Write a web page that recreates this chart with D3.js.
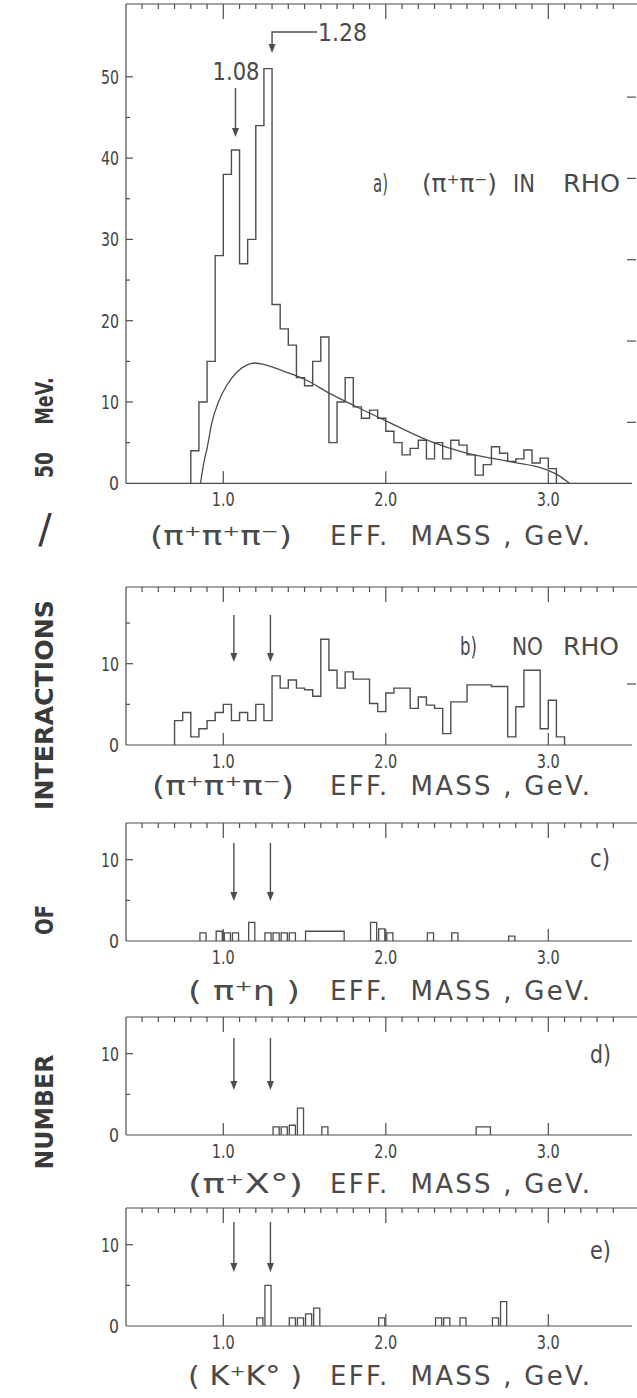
<!DOCTYPE html>
<html><head><meta charset="utf-8">
<script src="https://cdn.jsdelivr.net/npm/d3@7"></script>
<style>body{margin:0;background:#fff}svg{display:block}</style>
</head><body>
<svg id="chart" width="637" height="1398"></svg>
<script>
// ---------------- DATA ----------------
const binWidth = 0.05;            // GeV (50 MeV bins)
// a) (pi+pi-) in rho : histogram starting at 0.80 GeV
const aStart = 0.80;
const aCounts = [4,10,15,28,38,41,27,30,44,51,22,19,17,13,12,15,18,5,10,13,
                 9.4,8,9,8,6.4,5,3.5,4.3,5.3,3,5,3,5.3,4.7,3.5,1,2.3,4.5,3.7,2.7,
                 3,4.1,2.5,3.1,1.8];
// phase-space curve in a)
const curveMass = [0.86,0.88,0.90,0.93,0.97,1.02,1.08,1.14,1.19,1.27,1.37,1.50,1.66,1.80,2.02,2.27,2.48,2.78,2.97,3.06,3.13];
const curveVal  = [0,2.5,4.3,7.5,10,12,13.6,14.5,14.8,14.5,13.8,12.8,11.0,9.6,7.5,5.2,3.8,2.6,1.8,1.0,0];
// b) no rho : histogram starting at 0.70 GeV
const bStart = 0.70;
const bCounts = [3,4,1,2,3,4,5,3,4,3,5,3,8.5,7,8,7,6.8,6,13,9.2,7,9,8.1,8.1,5.1,4.1,
                 6.4,7,7,4.5,5.9,4.9,4.5,1.4,5.3,5.3,7.4,7.4,7.4,7.2,7.2,1,4.7,9.2,9.2,2,5.5,1];
// c) (pi+ eta) boxes
const cFrom = [0.85,0.95,1.00,1.05,1.15,1.25,1.30,1.35,1.40,1.50,1.90,1.95,2.00,2.25,2.40,2.75];
const cTo   = [0.90,1.00,1.05,1.10,1.20,1.30,1.35,1.40,1.45,1.75,1.95,2.00,2.05,2.30,2.45,2.80];
const cVal  = [1,1.2,1,1,2.3,1,1,1,1,1.2,2.3,1.5,1,1,1,0.6];
// d) (pi+ X0) boxes
const dFrom = [1.30,1.35,1.40,1.45,1.60,2.55];
const dTo   = [1.35,1.40,1.45,1.50,1.65,2.65];
const dVal  = [1,1,1.2,3.3,1,1];
// e) (K+ K0) boxes
const eFrom = [1.20,1.25,1.40,1.45,1.50,1.55,1.95,2.30,2.35,2.45,2.65,2.70];
const eTo   = [1.25,1.30,1.45,1.50,1.55,1.60,2.00,2.35,2.40,2.50,2.70,2.75];
const eVal  = [1,5,1,1,1.5,2.2,1,1,1,1,1,3];
// annotations
const arrowMass = [1.065, 1.29];
const aArrowMass = [1.075, 1.30];
const massTicks = [1, 2, 3];
const massTickLabels = ["1.0", "2.0", "3.0"];

// ---------------- DRAWING ----------------
const svg = d3.select('#chart');
const ink = '#4d4d4d';
const FONT = "'DejaVu Sans', sans-serif";
const x = d3.scaleLinear().domain([1, 3]).range([223.3, 548.3]);
const frameLeft = 126, frameRight = 637;

const panels = [
  {key:'a', top:4,    base:483.3, yTicks:d3.range(5,51,5), yLabels:[0,10,20,30,40,50], rTicks:[7.5,17.5,27.5,37.5,47.5]},
  {key:'b', top:587,  base:745,   yTicks:[5,10,15], yLabels:[0,10], rTicks:[7.5]},
  {key:'c', top:823,  base:941,   yTicks:[5,10], yLabels:[0,10], rTicks:[]},
  {key:'d', top:1017, base:1135,  yTicks:[5,10], yLabels:[0,10], rTicks:[]},
  {key:'e', top:1208, base:1326,  yTicks:[5,10], yLabels:[0,10], rTicks:[]}
];
panels.forEach(p => { p.y = d3.scaleLinear().domain([0, 10]).range([p.base, p.base - 81.3]); });

function drawFrame(p) {
  const g = svg.append('g').attr('stroke', ink).attr('stroke-width', 1.2).attr('fill', 'none');
  g.append('line').attr('x1', frameLeft).attr('x2', frameRight).attr('y1', p.top).attr('y2', p.top);
  g.append('line').attr('x1', frameLeft).attr('x2', frameLeft).attr('y1', p.top).attr('y2', p.base);
  g.append('line').attr('x1', frameLeft).attr('x2', 632).attr('y1', p.base).attr('y2', p.base);
  // top ticks
  const minor = d3.range(0.5, 3.45, 0.1).filter(v => Math.abs(v - Math.round(v)) > 0.01);
  g.selectAll(null).data(minor).join('line')
    .attr('x1', d => x(d)).attr('x2', d => x(d)).attr('y1', p.top).attr('y2', p.top + 5);
  g.selectAll(null).data(massTicks).join('line')
    .attr('x1', d => x(d)).attr('x2', d => x(d)).attr('y1', p.top).attr('y2', p.top + 15);
  // bottom ticks
  g.selectAll(null).data(massTicks).join('line')
    .attr('x1', d => x(d)).attr('x2', d => x(d)).attr('y1', p.base).attr('y2', p.base - 12);
  // left ticks
  g.selectAll(null).data(p.yTicks).join('line')
    .attr('x1', frameLeft).attr('x2', d => frameLeft + (d % 10 === 0 ? 7 : 4))
    .attr('y1', d => p.y(d)).attr('y2', d => p.y(d));
  // right ticks
  g.selectAll(null).data(p.rTicks).join('line')
    .attr('x1', 627).attr('x2', 636).attr('y1', d => p.y(d)).attr('y2', d => p.y(d));
  // tick labels
  const t = svg.append('g').attr('font-family', FONT).attr('font-size', 19).attr('fill', '#444');
  t.selectAll(null).data(massTicks).join('text')
    .attr('x', d => x(d)).attr('y', p.base + 23).attr('text-anchor', 'middle')
    .attr('textLength', 23).attr('lengthAdjust', 'spacingAndGlyphs')
    .text((d, i) => massTickLabels[i]);
  t.selectAll(null).data(p.yLabels).join('text')
    .attr('x', 119).attr('y', d => p.y(d) + 7).attr('text-anchor', 'end')
    .attr('textLength', d => d === 0 ? 10 : 18).attr('lengthAdjust', 'spacingAndGlyphs')
    .text(d => d3.format('d')(d));
}
panels.forEach(drawFrame);

function stepHist(p, start, counts) {
  const end = start + counts.length * binWidth;
  const pts = [[start, 0]].concat(counts.map((c, i) => [start + i * binWidth, c]), [[end, counts[counts.length - 1]], [end, 0]]);
  const line = d3.line().x(d => x(d[0])).y(d => p.y(d[1])).curve(d3.curveStepAfter);
  svg.append('path').attr('d', line(pts)).attr('fill', 'none').attr('stroke', ink).attr('stroke-width', 1.4);
}
function boxes(p, from, to, val) {
  const line = d3.line().x(d => x(d[0]) + d[2]).y(d => p.y(d[1]));
  from.forEach((f, i) => {
    const pts = [[f, 0, 1], [f, val[i], 1], [to[i], val[i], -1], [to[i], 0, -1]];
    svg.append('path').attr('d', line(pts)).attr('fill', 'none').attr('stroke', ink).attr('stroke-width', 1.3);
  });
}
function arrow(xp, y1, y2) {
  svg.append('line').attr('x1', xp).attr('x2', xp).attr('y1', y1).attr('y2', y2 - 6)
    .attr('stroke', ink).attr('stroke-width', 1.4);
  svg.append('path').attr('d', `M${xp - 3.5},${y2 - 9}L${xp + 3.5},${y2 - 9}L${xp},${y2}Z`).attr('fill', ink);
}

const [pa, pb, pc, pd, pe] = panels;
stepHist(pa, aStart, aCounts);
stepHist(pb, bStart, bCounts);
boxes(pc, cFrom, cTo, cVal);
boxes(pd, dFrom, dTo, dVal);
boxes(pe, eFrom, eTo, eVal);

// phase-space curve
const curveLine = d3.line().x((d, i) => x(curveMass[i])).y((d, i) => pa.y(curveVal[i])).curve(d3.curveMonotoneX);
svg.append('path').attr('d', curveLine(curveMass)).attr('fill', 'none').attr('stroke', ink).attr('stroke-width', 1.3);

// arrows in a)
arrow(x(aArrowMass[0]), 88, 137);
svg.append('path').attr('d', `M317,32H${x(aArrowMass[1])}V47`).attr('fill', 'none').attr('stroke', ink).attr('stroke-width', 1.4);
svg.append('path').attr('d', `M${x(aArrowMass[1]) - 3.5},${44}L${x(aArrowMass[1]) + 3.5},44L${x(aArrowMass[1])},53Z`).attr('fill', ink);
// arrows in b-e
[[pb, 28, 75], [pc, 20, 78], [pd, 21, 73], [pe, 14, 64]].forEach(([p, a, b]) => {
  arrowMass.forEach(m => arrow(x(m), p.top + a, p.top + b));
});

// texts
function txt(xp, yp, s, size, opts = {}) {
  const t = svg.append('text').attr('x', xp).attr('y', yp).attr('font-family', FONT)
    .attr('font-size', size).attr('fill', opts.fill || '#4a4a4a').attr('text-anchor', opts.anchor || 'start')
    .attr('xml:space', 'preserve');
  if (opts.len) t.attr('textLength', opts.len).attr('lengthAdjust', opts.adj || 'spacingAndGlyphs');
  if (opts.weight) t.attr('font-weight', opts.weight);
  t.text(s);
  return t;
}
txt(236, 80, '1.08', 24, {anchor: 'middle', len: 47});
txt(318, 41, '1.28', 24, {len: 49});
// panel labels
txt(373, 192, 'a)', 25, {len: 15});
txt(422, 192, '(π⁺π⁻)', 25, {len: 75});
txt(513, 192, 'IN', 25, {len: 22});
txt(563, 192, 'RHO', 25, {len: 57});
txt(460, 655, 'b)', 25, {len: 17});
txt(512, 655, 'NO', 25, {len: 31});
txt(563, 655, 'RHO', 25, {len: 56});
txt(590, 867, 'c)', 24, {len: 20});
txt(590, 1063, 'd)', 24, {len: 21});
txt(590, 1259, 'e)', 24, {len: 21});
// axis titles
const titleParen = ['(π⁺π⁺π⁻)', '(π⁺π⁺π⁻)', '( π⁺η )', '(π⁺X°)', '( K⁺K° )'];
const parenX = [[150, 142], [152, 142], [188, 112], [188, 115], [188, 114]];
const titleY = [545, 795, 1000, 1193, 1385];
titleY.forEach((ty, i) => {
  txt(parenX[i][0], ty, titleParen[i], 26, {len: parenX[i][1]});
  txt(330, ty, 'EFF.  MASS , GeV.', 26, {len: 260, adj: 'spacing'});
});
// y title (rotated words)
const yWords = [['MeV.', 401, 47], ['50', 465, 26], ['INTERACTIONS', 705, 210], ['OF', 920, 30], ['NUMBER', 1112, 115]];
yWords.forEach(([w, cy, len]) => {
  svg.append('text').attr('transform', `translate(53,${cy}) rotate(-90)`)
    .attr('text-anchor', 'middle').attr('font-family', FONT).attr('font-weight', 'bold')
    .attr('font-size', 25).attr('fill', '#3a3a3a')
    .attr('textLength', len).attr('lengthAdjust', 'spacingAndGlyphs').text(w);
});
txt(45, 543, '/', 40, {anchor: 'middle', fill: '#3a3a3a'});
</script>
</body></html>
